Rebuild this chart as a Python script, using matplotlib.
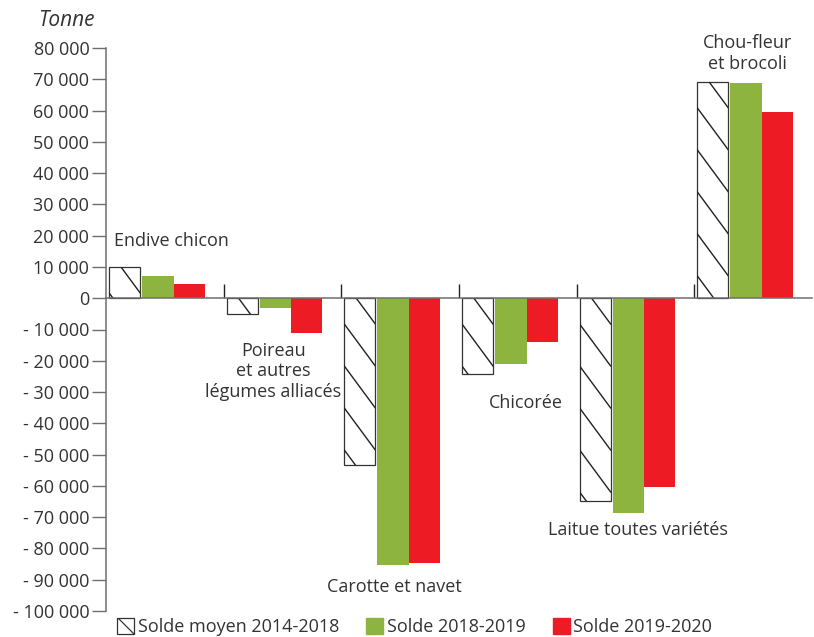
import matplotlib
matplotlib.use("Agg")
import matplotlib.pyplot as plt
from matplotlib.patches import Patch
from matplotlib.ticker import FuncFormatter, FixedLocator
import numpy as np

plt.rcParams['font.family'] = ['Open Sans', 'DejaVu Sans']
plt.rcParams['hatch.linewidth'] = 0.9

categories = ["Endive chicon", "Poireau\net autres\nlégumes alliacés", "Carotte et navet",
              "Chicorée", "Laitue toutes variétés", "Chou-fleur\net brocoli"]
solde_moyen_2014_2018 = [10000, -4900, -53400, -24100, -64700, 69100]
solde_2018_2019 = [7000, -3100, -85300, -21000, -68700, 68800]
solde_2019_2020 = [4500, -11000, -84700, -14000, -60400, 59500]
series_labels = ["Solde moyen 2014-2018", "Solde 2018-2019", "Solde 2019-2020"]
y_ticks = list(range(-100000, 80001, 10000))

# label positions (x in category units, y in data units)
label_pos = [(0.56, 18300), (1.42, -23400), (2.45, -92400), (3.57, -33600), (4.52, -74000), (5.45, 78200)]

TEXT = '#333333'
AXC = '#6f6f6f'
GREEN = '#8DB43E'
RED = '#ED1C24'
FS = 13

W, H = 814, 637
fig = plt.figure(figsize=(W / 100, H / 100), dpi=100)
ax = fig.add_axes([106 / W, (H - 611) / H, 706 / W, (611 - 48) / H])
ax.set_xlim(0, 6)
ax.set_ylim(-100000, 80000)

x = np.arange(len(categories))
bw1, bw2, bw3 = 0.263, 0.271, 0.263
hatched = ax.bar(x + 0.025, solde_moyen_2014_2018, width=bw1, align='edge',
                 facecolor='white', edgecolor='#333333', linewidth=0.9, zorder=2)
ax.bar(x + 0.305, solde_2018_2019, width=bw2, align='edge', color=GREEN, linewidth=0, zorder=2)
ax.bar(x + 0.576, solde_2019_2020, width=bw3, align='edge', color=RED, linewidth=0, zorder=2)

# custom sparse hatching (steep diagonal lines) clipped to each hatched bar
inv = ax.transData.inverted()
sx, sy = 31.0, 42.0  # direction in pixels (down-right)
for rect in hatched:
    (px0, py0), (px1, py1) = ax.transData.transform(
        [(rect.get_x(), rect.get_y()), (rect.get_x() + rect.get_width(), rect.get_y() + rect.get_height())])
    ylo, yhi = min(py0, py1), max(py0, py1)
    c0 = yhi + 12 * sy / sx
    k_min = int(np.floor((ylo - c0) / sy)) - 1
    k_max = int(np.ceil((yhi + (px1 - px0) * sy / sx - c0) / sy)) + 1
    for k in range(k_min, k_max + 1):
        c = c0 + k * sy
        pts = np.array([(px0, c), (px1, c - (px1 - px0) * sy / sx)])
        d = inv.transform(pts)
        ln, = ax.plot(d[:, 0], d[:, 1], color='#222222', lw=1.0, zorder=3)
        ln.set_clip_path(rect)

# spines
for s in ['top', 'right']:
    ax.spines[s].set_visible(False)
ax.spines['left'].set_color(AXC)
ax.spines['left'].set_linewidth(1.1)
ax.spines['bottom'].set_position(('data', 0))
ax.spines['bottom'].set_color(AXC)
ax.spines['bottom'].set_linewidth(1.1)
ax.spines['bottom'].set_zorder(4)

ax.xaxis.set_major_locator(FixedLocator([1, 2, 3, 4, 5]))
ax.tick_params(axis='x', direction='in', length=10, width=1.0, color='#222222', labelbottom=False)
ax.set_yticks(y_ticks)


def fmt(v, pos):
    v = int(round(v))
    s = f"{abs(v):,}".replace(",", " ")
    return ("- " + s) if v < 0 else s


ax.yaxis.set_major_formatter(FuncFormatter(fmt))
ax.tick_params(axis='y', direction='out', length=10, width=1.0, color=AXC, pad=2,
               labelsize=FS, labelcolor=TEXT)

for name, (lx, ly) in zip(categories, label_pos):
    ax.text(lx, ly, name, ha='center', va='center', fontsize=FS, color=TEXT,
            linespacing=1.2, zorder=5)

fig.text(38 / W, 1 - 20 / H, "Tonne", fontsize=FS + 2, style='italic', color=TEXT,
         ha='left', va='center')

handles = [Patch(facecolor='white', edgecolor='#333333', hatch='\\\\', linewidth=0.9),
           Patch(facecolor=GREEN, edgecolor=GREEN),
           Patch(facecolor=RED, edgecolor=RED)]
fig.legend(handles, series_labels, loc='lower left', bbox_to_anchor=(116 / W, 0.0),
           ncol=3, frameon=False, fontsize=FS, labelcolor=TEXT,
           handlelength=0.95, handleheight=0.95, handletextpad=0.2, columnspacing=1.5,
           borderpad=0.05, borderaxespad=0.0)

fig.savefig("out.png", dpi=100)
